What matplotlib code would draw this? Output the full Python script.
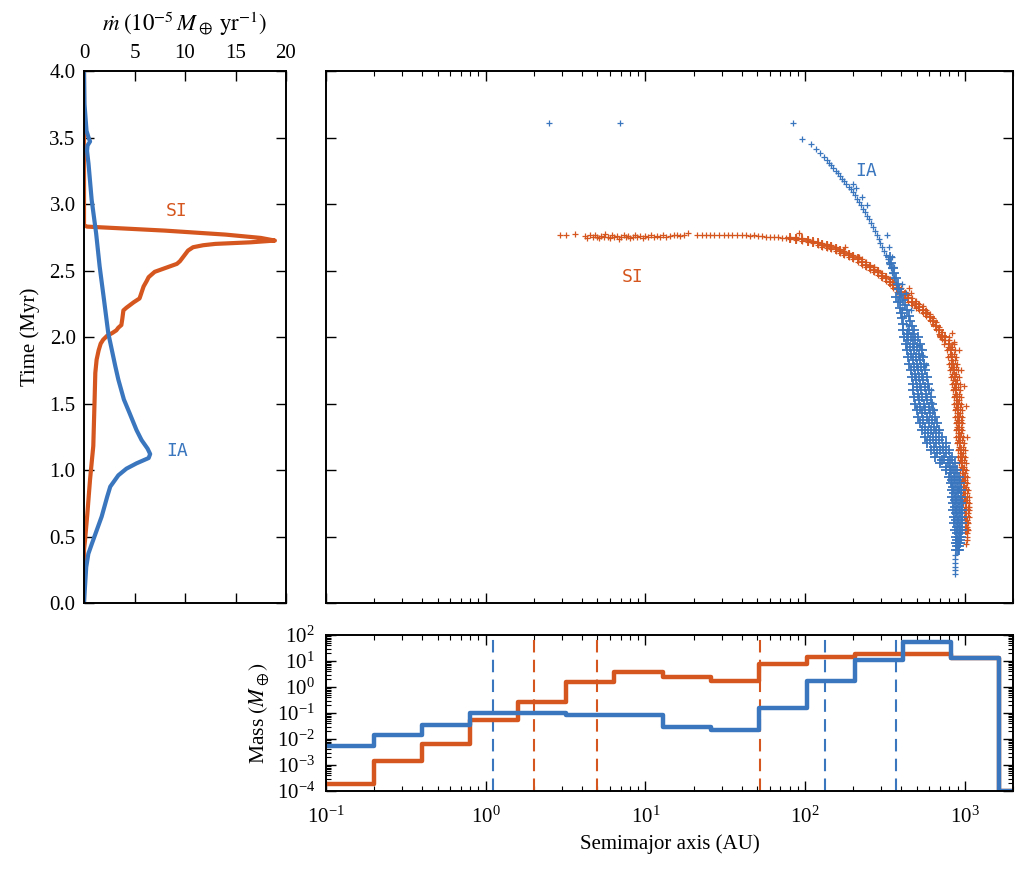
import matplotlib
matplotlib.use('Agg')
import matplotlib.pyplot as plt
from matplotlib.ticker import LogLocator, NullFormatter, FormatStrFormatter, FixedLocator, LogFormatterSciNotation

plt.rcParams['font.family'] = 'Liberation Serif'
plt.rcParams['mathtext.fontset'] = 'stix'
plt.rcParams['font.size'] = 15

BLUE = '#3A76BE'
ORANGE = '#D5561E'

# ---------------- left panel: mass-accretion rate vs time ----------------
si_rate_t = [4.0, 2.84, 2.83, 2.80, 2.77, 2.745, 2.725, 2.712, 2.70, 2.69, 2.675, 2.65, 2.63, 2.57,
             2.55, 2.52, 2.49, 2.45, 2.42, 2.38, 2.29, 2.26, 2.22, 2.20, 2.14, 2.09, 2.07, 2.05,
             2.03, 2.01, 1.98, 1.95, 1.90, 1.83, 1.73, 1.53, 1.18, 0.93, 0.67, 0.47, 0.40, 0.0]
si_rate_m = [0.0, 0.0, 0.3, 8.0, 14.0, 17.5, 18.9, 16.5, 13.0, 11.8, 10.8, 10.3, 10.1, 9.5,
             9.2, 8.1, 7.0, 6.4, 6.2, 5.9, 5.5, 4.9, 4.2, 3.9, 3.8, 3.7, 3.4, 3.2,
             2.8, 2.3, 1.9, 1.65, 1.45, 1.25, 1.12, 1.05, 0.92, 0.6, 0.33, 0.1, 0.0, 0.0]
ia_rate_t = [4.0, 3.75, 3.55, 3.50, 3.47, 3.44, 3.40, 3.30, 3.03, 2.78, 2.53, 2.28, 2.03, 1.78,
             1.68, 1.53, 1.43, 1.30, 1.225, 1.16, 1.12, 1.09, 1.05, 1.01, 0.96, 0.875, 0.80,
             0.65, 0.45, 0.37, 0.27, 0.10, 0.0]
ia_rate_m = [0.0, 0.05, 0.25, 0.45, 0.6, 0.35, 0.3, 0.45, 0.76, 1.2, 1.55, 1.98, 2.4, 3.1,
             3.4, 3.95, 4.5, 5.2, 5.7, 6.3, 6.55, 6.4, 5.2, 4.2, 3.4, 2.6, 2.3,
             1.75, 0.8, 0.43, 0.22, 0.08, 0.0]

# ---------------- main panel: semimajor axis vs time scatter ----------------
# SI: flat part
si_flat_a = [2.9, 3.2, 3.6, 4.2, 4.3, 4.5, 4.7, 4.8, 5.0, 5.1, 5.3, 5.5, 5.6, 5.8, 6.0, 6.2, 6.4, 6.6,
             6.8, 7.0, 7.3, 7.5, 7.8, 8.0, 8.3, 8.6, 8.9, 9.2, 9.6, 10.0, 10.4, 10.8, 11.3, 11.8,
             12.3, 12.9, 13.5, 14.2, 15.0, 15.8, 16.5, 17.5, 18.5, 21, 22.5, 24, 25.5, 27, 29, 31,
             33, 35, 37.5, 40, 42.5, 45, 48, 51, 54, 57, 60, 64, 68, 72, 76]
si_flat_t = [2.77, 2.77, 2.775, 2.76, 2.745, 2.765, 2.75, 2.77, 2.755, 2.745, 2.76, 2.75, 2.775,
             2.755, 2.745, 2.765, 2.75, 2.76, 2.74, 2.755, 2.765, 2.75, 2.76, 2.745, 2.755, 2.77,
             2.75, 2.76, 2.745, 2.76, 2.75, 2.765, 2.755, 2.76, 2.75, 2.765, 2.755, 2.76, 2.765,
             2.77, 2.76, 2.765, 2.785, 2.765, 2.77, 2.765, 2.77, 2.77, 2.765, 2.77, 2.765, 2.77,
             2.765, 2.77, 2.765, 2.76, 2.765, 2.76, 2.76, 2.755, 2.755, 2.75, 2.75, 2.745, 2.745]
# SI: bending band (centre and upper / lower edges)
si_curve_a = [80, 88, 96, 104, 112, 120, 128, 136, 145, 155, 165, 176, 188, 200, 213, 226, 240, 255,
              270, 286, 303, 320, 338, 357, 377, 398, 420, 443, 467, 492, 518, 545, 573, 602, 632,
              662, 692, 722]
si_curve_t = [2.745, 2.74, 2.735, 2.725, 2.715, 2.705, 2.695, 2.685, 2.675, 2.66, 2.65, 2.635, 2.62,
              2.605, 2.585, 2.565, 2.545, 2.525, 2.505, 2.485, 2.46, 2.44, 2.415, 2.39, 2.365, 2.34,
              2.315, 2.29, 2.265, 2.245, 2.225, 2.205, 2.18, 2.15, 2.12, 2.085, 2.05, 2.01]
si_curve_t_hi = [2.755, 2.75, 2.745, 2.735, 2.725, 2.715, 2.71, 2.70, 2.69, 2.675, 2.665, 2.65, 2.635,
                 2.62, 2.605, 2.585, 2.565, 2.545, 2.525, 2.505, 2.48, 2.46, 2.435, 2.41, 2.39, 2.365,
                 2.34, 2.315, 2.29, 2.27, 2.25, 2.23, 2.205, 2.175, 2.145, 2.11, 2.075, 2.035]
si_curve_t_lo = [2.735, 2.73, 2.725, 2.715, 2.705, 2.695, 2.68, 2.67, 2.66, 2.645, 2.635, 2.62, 2.605,
                 2.59, 2.565, 2.545, 2.525, 2.505, 2.485, 2.465, 2.44, 2.42, 2.395, 2.37, 2.34, 2.315,
                 2.29, 2.265, 2.24, 2.22, 2.20, 2.18, 2.155, 2.125, 2.095, 2.06, 2.025, 1.985]
# SI: steep outer band (edges and centre at given times)
si_band_t = [2.00, 1.95, 1.90, 1.85, 1.80, 1.75, 1.70, 1.65, 1.60, 1.55, 1.50, 1.45, 1.40, 1.35, 1.30,
             1.25, 1.20, 1.15, 1.10, 1.05, 1.00, 0.95, 0.90, 0.85, 0.80, 0.75, 0.70, 0.65, 0.60, 0.55]
si_band_lo = [700, 745, 770, 785, 795, 805, 815, 830, 840, 851, 860, 868, 872, 875, 878, 885, 892, 900,
              908, 917, 925, 935, 940, 950, 962, 975, 985, 990, 995, 1000]
si_band_mid = [748, 796, 820, 833, 843, 853, 864, 877, 885, 895, 903, 911, 916, 918, 921, 929, 938, 946,
               955, 963, 972, 982, 987, 997, 1008, 1017, 1022, 1022, 1022, 1022]
si_band_hi = [800, 850, 872, 885, 895, 905, 915, 925, 932, 940, 948, 955, 960, 962, 965, 975, 985, 995,
              1003, 1010, 1020, 1030, 1035, 1045, 1055, 1060, 1060, 1055, 1050, 1045]
si_fill_t = [1.975, 1.925, 1.875, 1.825, 1.775, 1.725, 1.675, 1.625, 1.575, 1.525, 1.475, 1.425, 1.375,
             1.325, 1.275, 1.225, 1.175, 1.125, 1.075, 1.025, 0.975, 0.925, 0.875, 0.825, 0.775, 0.725,
             0.675, 0.625, 0.575]
si_fill_a1 = [746, 782, 801, 814, 824, 834, 846, 858, 867, 877, 885, 891, 895, 897, 903, 910, 919, 927,
              935, 944, 953, 960, 968, 979, 990, 999, 1004, 1007, 1009]
si_fill_a2 = [798, 834, 852, 864, 874, 884, 895, 904, 913, 921, 929, 935, 939, 941, 947, 956, 966, 974,
              982, 991, 1001, 1008, 1016, 1026, 1034, 1040, 1039, 1037, 1034]
si_out_a = [91.7, 178, 218, 270, 447, 460, 581, 832, 851, 917, 940, 985, 1010, 1035, 1060, 1035, 1010,
            1030, 1025]
si_out_t = [2.785, 2.68, 2.60, 2.53, 2.37, 2.33, 2.19, 2.03, 1.96, 1.90, 1.75, 1.63, 1.48, 1.25, 0.72,
            0.53, 0.44, 0.50, 0.47]

# IA: isolated early points and inward path
ia_top_a = [2.48, 6.9, 84]
ia_top_t = [3.61, 3.61, 3.61]
ia_path_a = [96, 108, 117, 124, 131, 136, 140, 145, 150, 155, 160, 165, 170, 175, 181, 187, 193, 199,
             205, 212, 218, 224, 231, 238, 245, 252, 259, 266, 273, 280, 288, 296, 304, 312, 320, 328,
             336, 344, 352, 360, 368, 377, 386, 395, 405, 415, 426, 437]
ia_path_t = [3.49, 3.45, 3.41, 3.38, 3.35, 3.33, 3.31, 3.29, 3.27, 3.25, 3.23, 3.21, 3.19, 3.17, 3.15,
             3.13, 3.11, 3.09, 3.065, 3.04, 3.015, 2.99, 2.965, 2.94, 2.91, 2.885, 2.86, 2.83, 2.80,
             2.77, 2.74, 2.71, 2.68, 2.65, 2.62, 2.59, 2.55, 2.52, 2.48, 2.44, 2.40, 2.36, 2.31, 2.26,
             2.21, 2.16, 2.10, 2.05]
ia_path2_a = [338, 346, 354, 362, 371, 380, 389, 399, 410, 421, 432, 444, 456, 468,
              372, 380, 390, 398, 405, 410]
ia_path2_t = [2.60, 2.56, 2.52, 2.48, 2.44, 2.40, 2.36, 2.32, 2.28, 2.24, 2.20, 2.16, 2.12, 2.08,
              2.30, 2.26, 2.22, 2.18, 2.14, 2.10]
# IA: wide band at late inward migration
ia_band_t = [2.05, 2.00, 1.95, 1.90, 1.85, 1.80, 1.75, 1.70, 1.65, 1.60, 1.55, 1.50, 1.45, 1.40, 1.35,
             1.30, 1.25, 1.20, 1.15, 1.10, 1.05, 1.00, 0.95, 0.90, 0.85, 0.80, 0.75, 0.70, 0.65, 0.60,
             0.55, 0.50, 0.45, 0.40]
ia_band_lo = [410, 418, 426, 434, 442, 449, 457, 464, 470, 475, 480, 490, 500, 512, 525, 541, 560, 581,
              610, 652, 700, 757, 790, 813, 825, 832, 840, 845, 851, 860, 872, 880, 885, 880]
ia_band_mid = [444, 459, 471, 482, 492, 500, 509, 517, 524, 533, 542, 552, 563, 577, 592, 610, 633, 663,
               699, 736, 780, 823, 850, 870, 881, 884, 891, 898, 905, 910, 913, 912, 910, 900]
ia_band_hi = [480, 505, 520, 535, 548, 556, 566, 575, 585, 598, 612, 622, 635, 650, 668, 688, 715, 757,
              800, 832, 870, 895, 915, 930, 940, 940, 945, 955, 962, 962, 955, 945, 935, 920]
ia_fill_t = [2.025, 1.975, 1.925, 1.875, 1.825, 1.775, 1.725, 1.675, 1.625, 1.575, 1.525, 1.475, 1.425,
             1.375, 1.325, 1.275, 1.225, 1.175, 1.125, 1.075, 1.025, 0.975, 0.925, 0.875, 0.825, 0.775,
             0.725, 0.675, 0.625, 0.575, 0.525, 0.475, 0.425]
ia_fill_a1 = [432, 443, 452, 462, 470, 478, 485, 493, 499, 507, 515, 525, 537, 550, 566, 584, 608, 636,
              673, 716, 764, 804, 830, 847, 855, 861, 868, 874, 881, 888, 894, 896, 893]
ia_fill_a2 = [471, 488, 501, 513, 523, 532, 540, 549, 559, 571, 581, 592, 605, 620, 638, 660, 691, 727,
              765, 803, 841, 870, 890, 905, 911, 914, 922, 929, 934, 934, 931, 925, 916]
ia_out_a = [198, 208, 228, 245, 327, 335, 348, 360, 406, 426, 457, 529, 541, 518, 568, 612, 612, 640,
            688, 721, 794, 917, 962, 950, 872, 870, 868, 868, 866, 866]
ia_out_t = [3.15, 3.12, 3.05, 2.99, 2.77, 2.68, 2.60, 2.53, 2.40, 2.33, 2.20, 1.91, 1.865, 1.94, 1.79,
            1.60, 1.51, 1.45, 1.30, 1.175, 1.02, 0.85, 0.75, 0.70, 0.36, 0.33, 0.30, 0.27, 0.245, 0.22]

# ---------------- bottom panel: mass per semimajor-axis bin ----------------
bin_edges = [0.1, 0.2, 0.4, 0.8, 1.6, 3.2, 6.4, 12.8, 25.6, 51.2, 102.4, 204.8, 409.6, 819.2, 1638.4]
mass_si = [1.8e-4, 1.4e-3, 6.6e-3, 0.056, 0.27, 1.6, 3.9, 2.46, 1.74, 7.4, 14.6, 18.0, 18.6, 13.4]
mass_ia = [5.4e-3, 0.0138, 0.034, 0.10, 0.098, 0.087, 0.083, 0.029, 0.023, 0.158, 1.74, 11.0, 52.0, 12.6]
dash_si = [2.0, 4.94, 51.8]
dash_ia = [1.11, 133, 371]
a_ticks = [0.1, 1, 10, 100, 1000]
mass_ticks = [1e-4, 1e-3, 1e-2, 1e-1, 1e0, 1e1, 1e2]
a_minor = [f * 10.0 ** e for e in (-1, 0, 1, 2, 3) for f in range(2, 10) if f * 10.0 ** e <= 2000]
mass_minor = [f * 10.0 ** e for e in (-4, -3, -2, -1, 0, 1) for f in range(2, 10)]

# ---------------- figure ----------------
W, H = 1029, 871
fig = plt.figure(figsize=(W / 100, H / 100), dpi=100)
ax_rate = fig.add_axes([84 / W, 268 / H, 202 / W, 532 / H])
ax_main = fig.add_axes([326 / W, 268 / H, 687 / W, 532 / H])
ax_mass = fig.add_axes([326 / W, 80 / H, 687 / W, 156 / H])

for ax in (ax_rate, ax_main, ax_mass):
    for s in ax.spines.values():
        s.set_linewidth(1.4)
    ax.tick_params(which='major', direction='in', length=7, width=1.0,
                   top=True, bottom=True, left=True, right=True)
    ax.tick_params(which='minor', direction='in', length=3.5, width=0.8,
                   top=True, bottom=True, left=True, right=True)

# left panel
ax_rate.plot(si_rate_m, si_rate_t, color=ORANGE, lw=3, solid_joinstyle='round')
ax_rate.plot(ia_rate_m, ia_rate_t, color=BLUE, lw=3, solid_joinstyle='round')
ax_rate.set_xlim(0, 20)
ax_rate.set_ylim(0, 4)
ax_rate.set_xticks([0, 5, 10, 15, 20])
ax_rate.set_yticks([0, 0.5, 1.0, 1.5, 2.0, 2.5, 3.0, 3.5, 4.0])
ax_rate.yaxis.set_major_formatter(FormatStrFormatter('%.1f'))
ax_rate.tick_params(axis='x', labeltop=True, labelbottom=False, pad=6)
ax_rate.tick_params(axis='y', pad=6)
ax_rate.xaxis.set_label_position('top')
ax_rate.set_xlabel(r'$\dot{m}\;(10^{-5}\,M_\oplus\;\mathrm{yr}^{-1})$', fontsize=16.5, labelpad=9)
ax_rate.set_ylabel('Time (Myr)', fontsize=15, labelpad=7)
ax_rate.text(9.2, 2.95, 'SI', color=ORANGE, family='DejaVu Sans Mono', fontsize=13,
             ha='center', va='center')
ax_rate.text(9.2, 1.14, 'IA', color=BLUE, family='DejaVu Sans Mono', fontsize=13,
             ha='center', va='center')

# main panel
mk = dict(ls='none', marker='+', ms=4.0, mew=0.9)
mkb = dict(ls='none', marker='+', ms=6.5, mew=1.3)
ax_main.plot(si_flat_a, si_flat_t, color=ORANGE, **mk)
ax_main.plot(si_curve_a, si_curve_t, color=ORANGE, **mkb)
ax_main.plot(si_curve_a, si_curve_t_hi, color=ORANGE, **mk)
ax_main.plot(si_curve_a, si_curve_t_lo, color=ORANGE, **mk)
ax_main.plot(si_band_lo, si_band_t, color=ORANGE, **mk)
ax_main.plot(si_band_mid, si_band_t, color=ORANGE, **mkb)
ax_main.plot(si_band_hi, si_band_t, color=ORANGE, **mk)
ax_main.plot(si_fill_a1, si_fill_t, color=ORANGE, **mk)
ax_main.plot(si_fill_a2, si_fill_t, color=ORANGE, **mk)
ax_main.plot(si_out_a, si_out_t, color=ORANGE, **mk)

ax_main.plot(ia_top_a, ia_top_t, color=BLUE, **mk)
ax_main.plot(ia_path_a, ia_path_t, color=BLUE, **mk)
ax_main.plot(ia_path2_a, ia_path2_t, color=BLUE, **mkb)
ax_main.plot(ia_band_lo, ia_band_t, color=BLUE, **mkb)
ax_main.plot(ia_band_mid, ia_band_t, color=BLUE, **mkb)
ax_main.plot(ia_band_hi, ia_band_t, color=BLUE, **mkb)
ax_main.plot(ia_fill_a1, ia_fill_t, color=BLUE, **mkb)
ax_main.plot(ia_fill_a2, ia_fill_t, color=BLUE, **mkb)
ax_main.plot(ia_out_a, ia_out_t, color=BLUE, **mk)

ax_main.set_xscale('log')
ax_main.set_xlim(0.1, 2000)
ax_main.set_ylim(0, 4)
ax_main.set_yticks([0, 0.5, 1.0, 1.5, 2.0, 2.5, 3.0, 3.5, 4.0])
ax_main.xaxis.set_major_locator(FixedLocator(a_ticks))
ax_main.xaxis.set_minor_locator(FixedLocator(a_minor))
ax_main.xaxis.set_minor_formatter(NullFormatter())
ax_main.tick_params(labelleft=False, labelbottom=False)
ax_main.text(240, 3.25, 'IA', color=BLUE, family='DejaVu Sans Mono', fontsize=13,
             ha='center', va='center')
ax_main.text(8.3, 2.45, 'SI', color=ORANGE, family='DejaVu Sans Mono', fontsize=13,
             ha='center', va='center')

# bottom panel
for xd in dash_si:
    ax_mass.axvline(xd, color=ORANGE, lw=1.5, dashes=(6, 3.5))
for xd in dash_ia:
    ax_mass.axvline(xd, color=BLUE, lw=1.5, dashes=(6, 3.5))
x_step = bin_edges + [2000]
ax_mass.step(x_step, mass_si + [1e-4, 1e-4], where='post', color=ORANGE, lw=3.2)
ax_mass.step(x_step, mass_ia + [1e-4, 1e-4], where='post', color=BLUE, lw=3.2)
ax_mass.set_xscale('log')
ax_mass.set_yscale('log')
ax_mass.set_xlim(0.1, 2000)
ax_mass.set_ylim(1e-4, 1e2)
ax_mass.xaxis.set_major_locator(FixedLocator(a_ticks))
ax_mass.xaxis.set_minor_locator(FixedLocator(a_minor))
ax_mass.yaxis.set_major_locator(FixedLocator(mass_ticks))
ax_mass.yaxis.set_minor_locator(FixedLocator(mass_minor))
ax_mass.xaxis.set_major_formatter(LogFormatterSciNotation())
ax_mass.yaxis.set_major_formatter(LogFormatterSciNotation())
ax_mass.xaxis.set_minor_formatter(NullFormatter())
ax_mass.yaxis.set_minor_formatter(NullFormatter())
ax_mass.tick_params(axis='x', pad=11)
ax_mass.tick_params(axis='y', pad=8)
ax_mass.set_xlabel('Semimajor axis (AU)', fontsize=15, labelpad=5)
ax_mass.set_ylabel(r'Mass $(M_\oplus)$', fontsize=15.5, labelpad=3)

fig.savefig('out.png', dpi=100)
